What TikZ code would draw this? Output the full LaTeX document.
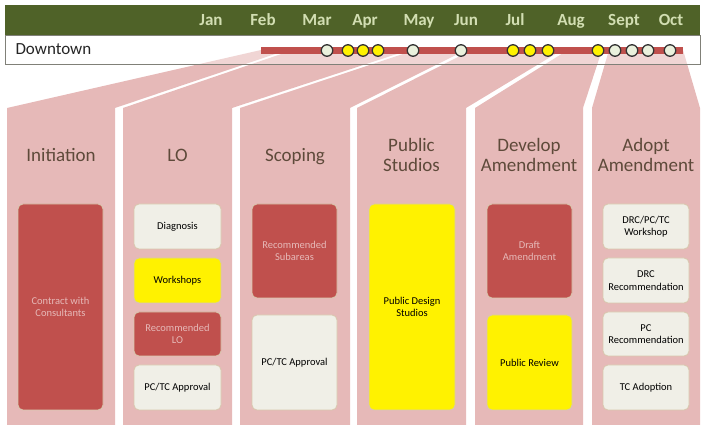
\documentclass[tikz,border=0pt]{standalone}
\usepackage{fontspec}
\setmainfont{Carlito}
\usepackage{tikz}
\definecolor{olivegreen}{RGB}{79,98,40}
\definecolor{monthtext}{RGB}{210,222,178}
\definecolor{phasepink}{RGB}{230,185,184}
\definecolor{darkred}{RGB}{192,80,77}
\definecolor{paper}{RGB}{240,239,231}
\definecolor{boxedge}{RGB}{216,200,174}
\definecolor{phasetext}{RGB}{94,74,58}
\definecolor{rowline}{RGB}{128,128,120}
\definecolor{milestone}{RGB}{234,241,221}
\tikzset{
  month/.style={text=monthtext, font=\fontsize{17}{19}\selectfont\bfseries, anchor=base},
  phase/.style={text=phasetext, align=center, font=\fontsize{19}{20}\selectfont},
  task/.style={draw=boxedge, line width=0.8pt, rounded corners=5pt, align=center, inner sep=1pt, font=\fontsize{10.5}{12.5}\selectfont},
  redtask/.style={task, fill=darkred, text=phasepink},
  papertask/.style={task, fill=paper, text=black},
  yellowtask/.style={task, fill=yellow, text=black},
  done/.style={circle, draw=black!80, line width=1.3pt, fill=milestone, minimum size=11.5pt, inner sep=0pt},
  meeting/.style={done, fill=yellow}
}

\begin{document}
\begin{tikzpicture}[x=1pt, y=-1pt]
\useasboundingbox (0,0) rectangle (707,427);
\fill[olivegreen] (5,5) rectangle (700,35);
\foreach \m/\x in {Jan/211, Feb/263, Mar/317, Apr/365, May/419, Jun/466, Jul/515, Aug/571, Sept/624, Oct/671}
  \node[month] (\m) at (\x,26) {\m};
\foreach \a/\b/\l/\r in {261/287/7/115, 293/409/123/232, 415/466/240/350, 472/562/357/466, 568/602/475/583, 609/683/592/700}
  \fill[phasepink] (\a,50) -- (\b,50) -- (\r,108) -- (\r,425) -- (\l,425) -- (\l,108) -- cycle;
\draw[rowline, fill=white, fill opacity=0.4] (5,35) rectangle (700,64);
\node[anchor=base west, font=\fontsize{17}{20}\selectfont, text=black!85] (downtown) at (12,55) {Downtown};
\coordinate (barstart) at (261,50.5);
\coordinate (barend) at (683,50.5);
\draw[darkred, line width=7pt] (barstart) -- (barend);
\foreach \x/\s [count=\i] in {327/done, 348/meeting, 363/meeting, 378/meeting, 413/done, 461/done, 513/meeting, 530/meeting, 548/meeting, 598/meeting, 615/done, 632/done, 648/done, 670/done}
  \node[\s] (m\i) at (\x,50.5) {};

\node[phase] (initiation) at (61,155) {Initiation};
\node[phase] (lo) at (177.5,155) {LO};
\node[phase] (scoping) at (295,157) {Scoping};
\node[phase] (studios) at (411.5,155) {Public\\Studios};
\node[phase] (develop) at (529,155) {Develop\\Amendment};
\node[phase] (adopt) at (646,155) {Adopt\\Amendment};

\node[redtask, minimum width=85pt, minimum height=206pt] (contract) at (60.5,307) {Contract with\\Consultants};

\node[papertask, minimum width=87pt, minimum height=45pt] (diagnosis) at (177.5,226.5) {Diagnosis};
\node[yellowtask, minimum width=87pt, minimum height=45pt] (workshops) at (177.5,280.5) {Workshops};
\node[redtask, minimum width=87pt, minimum height=44pt] (reclo) at (177.5,334) {Recommended\\LO};
\node[papertask, minimum width=87pt, minimum height=45pt] (loapproval) at (177.5,387.5) {PC/TC Approval};

\node[redtask, minimum width=85pt, minimum height=94pt] (subareas) at (294.5,251) {Recommended\\Subareas};
\node[papertask, minimum width=85pt, minimum height=95pt] (scopeapproval) at (294.5,362.5) {PC/TC Approval};

\node[yellowtask, minimum width=86pt, minimum height=206pt] (designstudios) at (412,307) {Public Design\\Studios};

\node[redtask, minimum width=85pt, minimum height=94pt] (draft) at (529.5,251) {Draft\\Amendment};
\node[yellowtask, minimum width=85pt, minimum height=95pt] (review) at (529.5,362.5) {Public Review};

\node[papertask, minimum width=86pt, minimum height=45pt] (workshop) at (646,226.5) {DRC/PC/TC\\Workshop};
\node[papertask, minimum width=86pt, minimum height=45pt] (drc) at (646,280.5) {DRC\\Recommendation};
\node[papertask, minimum width=86pt, minimum height=44pt] (pc) at (646,334) {PC\\Recommendation};
\node[papertask, minimum width=86pt, minimum height=45pt] (tc) at (646,387.5) {TC Adoption};
\end{tikzpicture}
\end{document}
